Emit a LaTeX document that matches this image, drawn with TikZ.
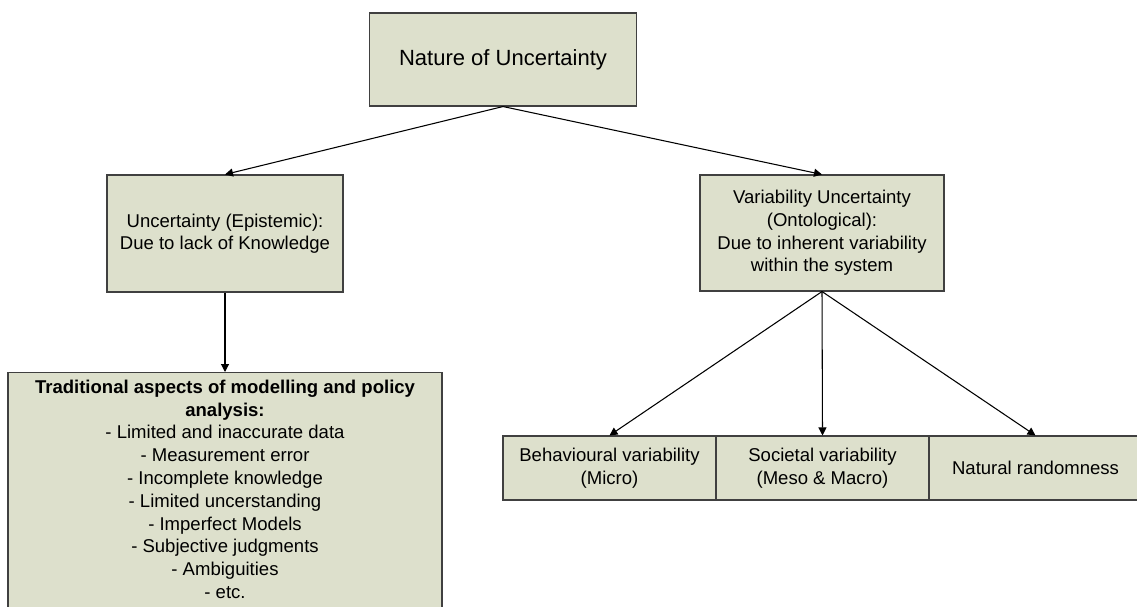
\documentclass[tikz,border=0pt]{standalone}
\usepackage{fontspec}
\setmainfont{Liberation Sans}
\usetikzlibrary{arrows.meta}
\definecolor{boxfill}{RGB}{221,224,204}

\begin{document}
\begin{tikzpicture}[x=0.75pt,y=-0.75pt]
	 \tikzstyle{box}=[rectangle,draw=black!75,line width=0.8pt,fill=boxfill,align=center,inner sep=0pt,font=\fontsize{13.9}{16.9}\selectfont]
	 \tikzstyle{title box}=[box,font=\fontsize{16.5}{19}\selectfont]
	 \tikzstyle{row box}=[box,minimum width=159.75pt,minimum height=48pt]
	 \tikzstyle{edge}=[draw,line width=0.8pt,-{Triangle[length=6pt,width=6pt]},black]

	 \useasboundingbox (0,0) rectangle (1137,606);

	 \node[title box,minimum width=200.25pt,minimum height=69.75pt] (nat) at (503,59.5) {Nature of Uncertainty};
	 \node[box,minimum width=177pt,minimum height=87.75pt] (epi) at (225,233.5) {Uncertainty (Epistemic):\\Due to lack of Knowledge};
	 \node[box,minimum width=183pt,minimum height=87pt] (ont) at (822,233) {Variability Uncertainty\\(Ontological):\\Due to inherent variability\\within the system};
	 \node[box,anchor=north,minimum width=325.5pt,inner ysep=5.5pt,text depth=20pt,font=\fontsize{13.9}{17.1}\selectfont] (trad) at (225,372)
		{\textbf{Traditional aspects of modelling and policy}\\\textbf{analysis:}\\- Limited and inaccurate data\\- Measurement error\\- Incomplete knowledge\\- Limited uncerstanding\\- Imperfect Models\\- Subjective judgments\\- Ambiguities\\- etc.};
	 \node[row box] (beh) at (609.5,468) {Behavioural variability\\(Micro)};
	 \node[row box] (soc) at (822.5,468) {Societal variability\\(Meso \& Macro)};
	 \node[row box] (ran) at (1035.5,468) {Natural randomness};

	 \draw[edge] (nat.south) -- (epi.north);
	 \draw[edge] (nat.south) -- (ont.north);
	 \draw[edge] (epi.south) -- (trad.north);
	 \draw[edge] (ont.south) -- (beh.north);
	 \draw[edge] (ont.south) -- (soc.north);
	 \draw[edge] (ont.south) -- (ran.north);
\end{tikzpicture}
\end{document}
